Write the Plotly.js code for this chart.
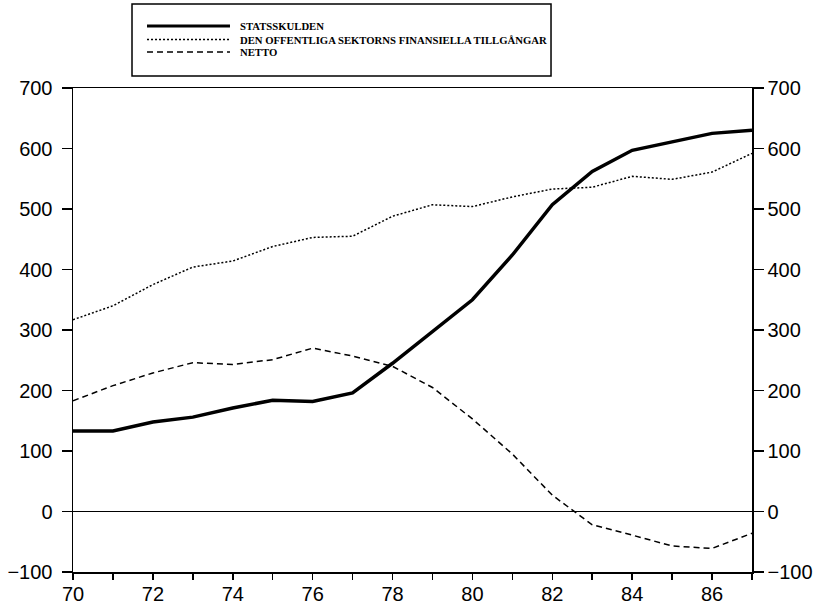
<!DOCTYPE html>
<html>
<head>
<meta charset="utf-8">
<script src="https://cdn.plot.ly/plotly-3.0.1.min.js"></script>
<style>html,body{margin:0;padding:0;background:#fff;}#chart{width:825px;height:607px;}</style>
</head>
<body>
<div id="chart"></div>
<script>
const years = [70,71,72,73,74,75,76,77,78,79,80,81,82,83,84,85,86,87];
const statsskulden = [133,133,148,156,171,184,182,196,245,298,350,424,507,562,597,611,625,630];
const tillgangar = [317,340,375,404,414,438,453,455,488,507,504,520,533,536,554,549,561,592];
const netto = [183,208,229,246,243,251,270,257,240,205,153,95,27,-22,-39,-57,-61,-36];
const xTickVals = [70,71,72,73,74,75,76,77,78,79,80,81,82,83,84,85,86,87];
const xTickText = ['70','','72','','74','','76','','78','','80','','82','','84','','86',''];
const yTickVals = [-100,0,100,200,300,400,500,600,700];
const yTickText = ['\u2212100','0','100','200','300','400','500','600','700'];
const seriesNames = ['STATSSKULDEN','DEN OFFENTLIGA SEKTORNS FINANSIELLA TILLGÅNGAR','NETTO'];

const traces = [
  {x: years, y: statsskulden, mode: 'lines', name: seriesNames[0], line: {color: '#000', width: 3.5}},
  {x: years, y: tillgangar, mode: 'lines', name: seriesNames[1], line: {color: '#000', width: 1.5, dash: '2px,2px'}},
  {x: years, y: netto, mode: 'lines', name: seriesNames[2], yaxis: 'y2', line: {color: '#000', width: 1.5, dash: '6px,4px'}}
];

const L = {x0: 0.109, x1: 0.2312, tx: 0.243, rows: [1.1281, 1.1002, 1.0744]};
const dashes = ['solid', '2px,2px', '6px,4px'];
const widths = [3, 1.3, 1.3];
const shapes = [
  {type: 'rect', xref: 'paper', yref: 'paper', x0: 0.0869, x1: 0.704, y0: 1.0248, y1: 1.1736, line: {color: '#000', width: 1.5}}
];
const annotations = [];
for (let i = 0; i < 3; i++) {
  shapes.push({type: 'line', xref: 'paper', yref: 'paper', x0: L.x0, x1: L.x1, y0: L.rows[i], y1: L.rows[i], line: {color: '#000', width: widths[i], dash: dashes[i]}});
  annotations.push({xref: 'paper', yref: 'paper', x: L.tx, y: L.rows[i], xanchor: 'left', yanchor: 'middle', showarrow: false, text: seriesNames[i], font: {family: 'Liberation Serif', size: 10.7, color: '#000', weight: 'bold'}});
}

const yaxisBase = {
  range: [-100, 700], tickmode: 'array', tickvals: yTickVals, ticktext: yTickText,
  ticks: 'outside', ticklen: 10, tickwidth: 1.5, tickcolor: '#000',
  showline: true, linecolor: '#000', linewidth: 1.5, showgrid: false,
  zeroline: true, zerolinecolor: '#000', zerolinewidth: 1.5,
  tickfont: {family: 'Liberation Sans', size: 20, color: '#000'}, fixedrange: true
};

const layout = {
  width: 825, height: 607,
  margin: {l: 73, r: 73, t: 88, b: 35},
  paper_bgcolor: '#fff', plot_bgcolor: '#fff',
  showlegend: false,
  xaxis: {
    range: [70, 87], tickmode: 'array', tickvals: xTickVals, ticktext: xTickText,
    ticks: 'outside', ticklen: 6, tickwidth: 1.5, tickcolor: '#000', ticklabelstandoff: -3,
    showline: true, mirror: true, linecolor: '#000', linewidth: 1.5, showgrid: false, zeroline: false,
    tickfont: {family: 'Liberation Sans', size: 20, color: '#000'}
  },
  yaxis: Object.assign({}, yaxisBase, {side: 'left', ticklabelstandoff: 5}),
  yaxis2: Object.assign({}, yaxisBase, {side: 'right', overlaying: 'y'}),
  shapes: shapes,
  annotations: annotations
};

Plotly.newPlot('chart', traces, layout, {staticPlot: true});
</script>
</body>
</html>
